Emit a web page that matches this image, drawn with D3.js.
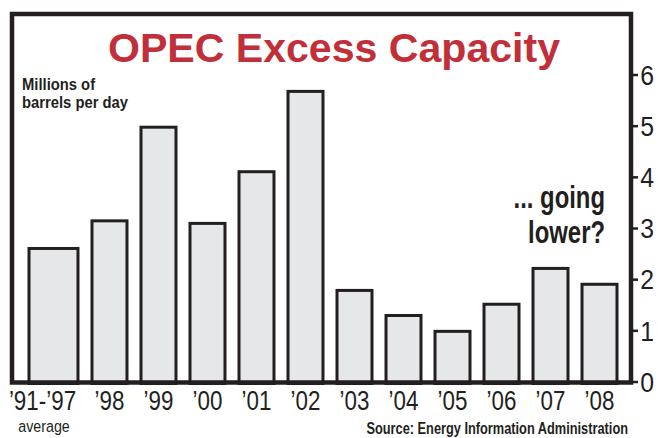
<!DOCTYPE html>
<html lang="en">
<head>
<meta charset="UTF-8">
<title>OPEC Excess Capacity</title>
<style>
  body { margin: 0; background: #fff; }
  svg { display: block; font-family: "Liberation Sans", Arial, sans-serif; }
</style>
</head>
<body>
<div id="chart"></div>
<script src="https://cdnjs.cloudflare.com/ajax/libs/d3/7.8.5/d3.min.js"></script>
<script>
  // data
  var categories = ["\u201991-\u201997", "\u201998", "\u201999", "\u201900", "\u201901", "\u201902",
                    "\u201903", "\u201904", "\u201905", "\u201906", "\u201907", "\u201908"];
  var values = [2.6, 3.14, 4.97, 3.09, 4.1, 5.67, 1.78, 1.29, 0.98, 1.51, 2.21, 1.9];
  var yTicks = [0, 1, 2, 3, 4, 5, 6];

  var width = 668, height = 438;
  var ink = "#231f20";

  var svg = d3.select("#chart").append("svg")
      .attr("width", width)
      .attr("height", height);

  var x = d3.scaleBand()
      .domain(categories)
      .range([43, 617])
      .paddingInner(0.286)
      .paddingOuter(0);

  var y = d3.scaleLinear()
      .domain([0, 6])
      .range([381.5, 74.5]);

  var firstExtra = 14; // the average bar is drawn wider

  function barX(d, i) { return i === 0 ? x(d) - firstExtra : x(d); }
  function barW(d, i) { return i === 0 ? x.bandwidth() + firstExtra : x.bandwidth(); }

  // condensed text helper
  function label(g, txt, px, py, size, weight, sx, anchor) {
    return g.append("text")
      .attr("transform", "translate(" + px + "," + py + ") scale(" + sx + ",1)")
      .attr("font-size", size)
      .attr("font-weight", weight)
      .attr("text-anchor", anchor || "start")
      .attr("fill", ink)
      .text(txt);
  }

  // bars
  svg.append("g").selectAll("rect")
    .data(categories)
    .enter().append("rect")
      .attr("x", barX)
      .attr("width", barW)
      .attr("y", function(d, i) { return y(values[i]); })
      .attr("height", function(d, i) { return y(0) - y(values[i]) + 2; })
      .attr("fill", "#e6e7e8")
      .attr("stroke", ink)
      .attr("stroke-width", 3);

  // frame
  svg.append("rect")
    .attr("x", 12).attr("y", 14)
    .attr("width", 631 - 12).attr("height", 382.5 - 14)
    .attr("fill", "none")
    .attr("stroke", ink)
    .attr("stroke-width", 4.5);

  // right axis
  var axis = svg.append("g")
    .attr("transform", "translate(631,0)")
    .call(d3.axisRight(y).tickValues(yTicks).tickFormat(d3.format("d"))
      .tickSize(7).tickSizeOuter(0).tickPadding(3));
  axis.select(".domain").remove();
  axis.selectAll(".tick line").attr("stroke", ink).attr("stroke-width", 2.5);
  axis.selectAll(".tick text")
    .attr("font-size", 27)
    .attr("font-family", "Liberation Sans, Arial, sans-serif")
    .attr("fill", ink)
    .attr("transform", "scale(0.92,1)")
    .attr("dy", "0.36em");

  // x labels
  var xl = svg.append("g");
  categories.forEach(function(c, i) {
    var cx = barX(c, i) + barW(c, i) / 2 - (i === 0 ? 11 : 0);
    label(xl, c, cx, 410, 28, "normal", 0.8, "middle");
  });
  label(xl, "average", 44, 432, 17, "normal", 0.84, "middle");

  // title
  svg.append("text")
    .attr("x", 108).attr("y", 62)
    .attr("font-size", 41)
    .attr("font-weight", "bold")
    .attr("fill", "#c1303a")
    .attr("textLength", 452)
    .attr("lengthAdjust", "spacingAndGlyphs")
    .text("OPEC Excess Capacity");

  // unit note
  label(svg, "Millions of", 22, 90, 17, "bold", 0.87);
  label(svg, "barrels per day", 22, 108, 17, "bold", 0.87);

  // annotation
  label(svg, "... going", 605, 208, 31, "bold", 0.77, "end");
  label(svg, "lower?", 605, 243, 31, "bold", 0.77, "end");

  // source
  label(svg, "Source: Energy Information Administration", 628, 434, 16, "bold", 0.8, "end");
</script>
</body>
</html>
